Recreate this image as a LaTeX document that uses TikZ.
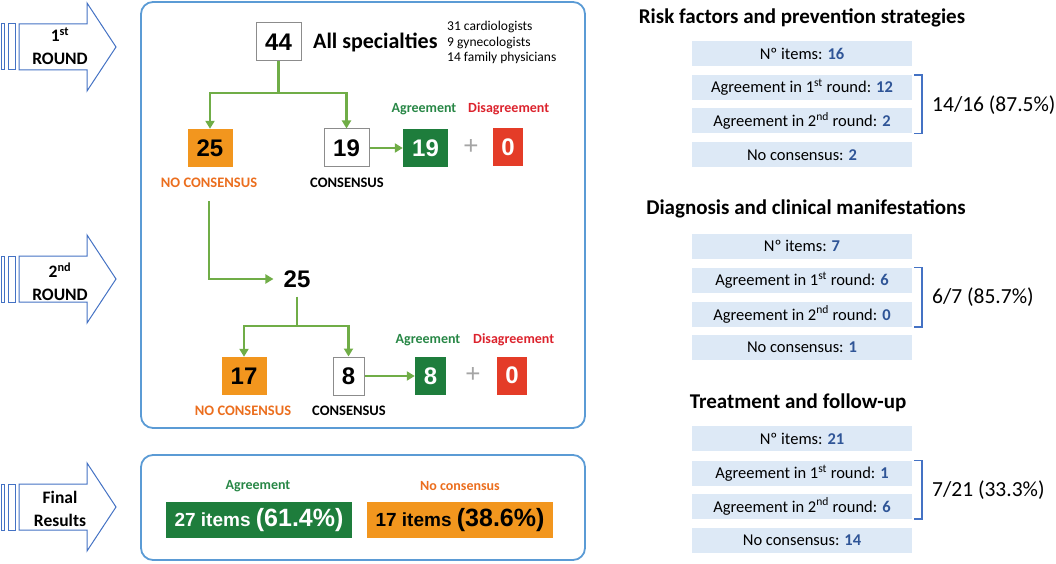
\documentclass[tikz,border=0pt]{standalone}
\usepackage{fontspec}
\setmainfont{Carlito}
\newfontfamily\arialf{Liberation Sans}
\usetikzlibrary{arrows.meta}
\definecolor{frameblue}{RGB}{91,155,213}
\definecolor{arrowblue}{RGB}{68,114,196}
\definecolor{conngreen}{RGB}{112,173,71}
\definecolor{boxgreen}{RGB}{30,125,60}
\definecolor{txtgreen}{RGB}{40,135,70}
\definecolor{boxorange}{RGB}{242,150,30}
\definecolor{txtorange}{RGB}{235,110,30}
\definecolor{boxred}{RGB}{228,60,40}
\definecolor{txtred}{RGB}{220,35,45}
\definecolor{lightblue}{RGB}{221,233,246}
\definecolor{numblue}{RGB}{47,85,151}
\definecolor{plusgray}{RGB}{165,165,165}
\newcommand\fsz[2]{\fontsize{#1}{#2}\selectfont}
\newcommand\bigarr[1]{%
  \draw[bigarrow] (19,{#1-23}) -- (87,{#1-23}) -- (87,{#1-44}) -- (116,#1) -- (87,{#1+44}) -- (87,{#1+23}) -- (19,{#1+23}) -- cycle;
  \draw[bigarrow] (8.5,{#1-23}) rectangle (15.5,{#1+23});
  \draw[bigarrow] (1.5,{#1-23}) rectangle (4.5,{#1+23});}
\begin{document}
\begin{tikzpicture}[x=1pt,y=-1pt,
  numbox/.style={minimum width=45pt, minimum height=38pt, inner sep=0pt, font=\arialf\bfseries\fsz{24}{28}},
  whitebox/.style={numbox, draw=gray!90, line width=1pt, fill=white},
  orangebox/.style={numbox, fill=boxorange},
  greenbox/.style={numbox, fill=boxgreen, text=white},
  redbox/.style={numbox, fill=boxred, text=white, minimum width=30pt},
  lbl/.style={inner sep=0pt, font=\bfseries\fsz{14}{16}},
  caplbl/.style={inner sep=0pt, font=\bfseries\fsz{14.5}{16}},
  plussign/.style={inner sep=0pt, text=plusgray, font=\arialf\fsz{26}{28}},
  conn/.style={draw=conngreen, line width=2.6pt},
  cto/.style={-{Triangle[length=8pt,width=9pt]}},
  frame/.style={draw=frameblue, line width=1.8pt, rounded corners=12pt},
  bigarrow/.style={draw=arrowblue, line width=1pt, fill=white},
  arrtxt/.style={align=center, inner sep=0pt, font=\bfseries\fsz{17.5}{23}},
  ltbox/.style={fill=lightblue, minimum width=220pt, minimum height=25pt, inner sep=0pt, font=\fsz{16.5}{18}},
  sectitle/.style={inner sep=0pt, font=\bfseries\fsz{21}{24}},
  pct/.style={anchor=west, inner sep=0pt, font=\fsz{21.5}{24}},
  brk/.style={draw=arrowblue, line width=1.5pt},
  resbox/.style={minimum width=186pt, minimum height=36pt, inner sep=0pt, font=\arialf\bfseries}
]
\useasboundingbox (0,0) rectangle (1056,564);

% left arrows
\bigarr{47}
\bigarr{279}
\bigarr{507}
\node[arrtxt] (t1) at (60,46) {1\textsuperscript{st}\\ROUND};
\node[arrtxt] (t2) at (60,282) {2\textsuperscript{nd}\\ROUND};
\node[arrtxt] (t3) at (60,509) {Final\\Results};

% frames
\draw[frame] (141,2) rectangle (585,428);
\draw[frame] (141,455) rectangle (585,560);

% first round
\node[whitebox] (n44) at (278.5,42) {44};
\node[anchor=west, inner sep=0pt, font=\bfseries\fsz{22}{26}] (all) at (313,42) {All specialties};
\node[anchor=west, inner sep=0pt, align=left, font=\fsz{13.5}{15.5}] (spec) at (447,42.5) {31 cardiologists\\9 gynecologists\\14 family physicians};

\node[orangebox] (c25) at (210,148) {25};
\node[caplbl, text=txtorange] (nc1) at (209,183) {NO CONSENSUS};
\node[whitebox] (c19) at (346.5,148) {19};
\node[caplbl] (cl1) at (347,183) {CONSENSUS};
\node[greenbox] (a19) at (425.5,148) {19};
\node[plussign] (p1) at (471,147) {+};
\node[redbox] (d1) at (508,147.5) {0};
\node[lbl, text=txtgreen] (ag1) at (424,109) {Agreement};
\node[lbl, text=txtred, anchor=west] (dis1) at (468,109) {Disagreement};

\coordinate (j1) at (278.5,93);
\draw[conn] (n44.south) -- (j1);
\draw[conn,cto] (j1) -| (c25.north);
\draw[conn,cto] (j1) -| (c19.north);
\draw[conn,cto] (c19.east) -- (a19.west);

% second round
\node[inner sep=0pt, font=\arialf\bfseries\fsz{24}{28}] (r2) at (297,279) {25};
\draw[conn,cto] ([yshift=-13pt]nc1.south) |- ([xshift=-10pt]r2.west);

\node[orangebox] (c17) at (244,376) {17};
\node[caplbl, text=txtorange] (nc2) at (243,411) {NO CONSENSUS};
\node[whitebox, minimum width=31pt] (c8) at (348.5,376) {8};
\node[caplbl] (cl2) at (349,411) {CONSENSUS};
\node[greenbox, minimum width=31pt] (a8) at (430.5,376) {8};
\node[plussign] (p2) at (473,375) {+};
\node[redbox] (d2) at (512,375.5) {0};
\node[lbl, text=txtgreen] (ag2) at (428,340) {Agreement};
\node[lbl, text=txtred, anchor=west] (dis2) at (473,340) {Disagreement};

\coordinate (j2) at (297,326);
\draw[conn] ([yshift=-9pt]r2.south) -- (j2);
\draw[conn,cto] (j2) -| (c17.north);
\draw[conn,cto] (j2) -| (c8.north);
\draw[conn,cto] (c8.east) -- (a8.west);

% final results
\node[lbl, text=txtgreen] (ag3) at (258,486) {Agreement};
\node[lbl, text=txtorange] (nc3) at (460,486) {No consensus};
\node[resbox, fill=boxgreen, text=white] (gres) at (259,520) {\fsz{19}{22}27 items \fsz{25}{28}(61.4\%)};
\node[resbox, fill=boxorange, text=black] (ores) at (460,520) {\fsz{19}{22}17 items \fsz{25}{28}(38.6\%)};

% right column: section 1
\node[sectitle] (h1) at (802,18) {Risk factors and prevention strategies};
\node[ltbox] (s1a) at (802,54) {Nº items: \textbf{\color{numblue}16}};
\node[ltbox] (s1b) at (802,87.5) {Agreement in 1\textsuperscript{st} round: \textbf{\color{numblue}12}};
\node[ltbox] (s1c) at (802,121) {Agreement in 2\textsuperscript{nd} round: \textbf{\color{numblue}2}};
\node[ltbox] (s1d) at (802,155) {No consensus: \textbf{\color{numblue}2}};
\draw[brk] ([xshift=2pt]s1b.north east) -- ++(8,0) coordinate (k1) -- (k1 |- s1c.south) -- ([xshift=2pt]s1c.south east);
\node[pct] (q1) at (932,105) {14/16 (87.5\%)};

% section 2
\node[sectitle] (h2) at (806,209) {Diagnosis and clinical manifestations};
\node[ltbox] (s2a) at (802,246) {Nº items: \textbf{\color{numblue}7}};
\node[ltbox] (s2b) at (802,280) {Agreement in 1\textsuperscript{st} round: \textbf{\color{numblue}6}};
\node[ltbox] (s2c) at (802,314.5) {Agreement in 2\textsuperscript{nd} round: \textbf{\color{numblue}0}};
\node[ltbox] (s2d) at (802,347.5) {No consensus: \textbf{\color{numblue}1}};
\draw[brk] ([xshift=2pt]s2b.north east) -- ++(8,0) coordinate (k2) -- (k2 |- s2c.south) -- ([xshift=2pt]s2c.south east);
\node[pct] (q2) at (932,297) {6/7 (85.7\%)};

% section 3
\node[sectitle] (h3) at (798,403) {Treatment and follow-up};
\node[ltbox] (s3a) at (802,438.5) {Nº items: \textbf{\color{numblue}21}};
\node[ltbox] (s3b) at (802,473) {Agreement in 1\textsuperscript{st} round: \textbf{\color{numblue}1}};
\node[ltbox] (s3c) at (802,506.5) {Agreement in 2\textsuperscript{nd} round: \textbf{\color{numblue}6}};
\node[ltbox] (s3d) at (802,540.5) {No consensus: \textbf{\color{numblue}14}};
\draw[brk] ([xshift=2pt]s3b.north east) -- ++(8,0) coordinate (k3) -- (k3 |- s3c.south) -- ([xshift=2pt]s3c.south east);
\node[pct] (q3) at (932,490) {7/21 (33.3\%)};
\end{tikzpicture}
\end{document}
